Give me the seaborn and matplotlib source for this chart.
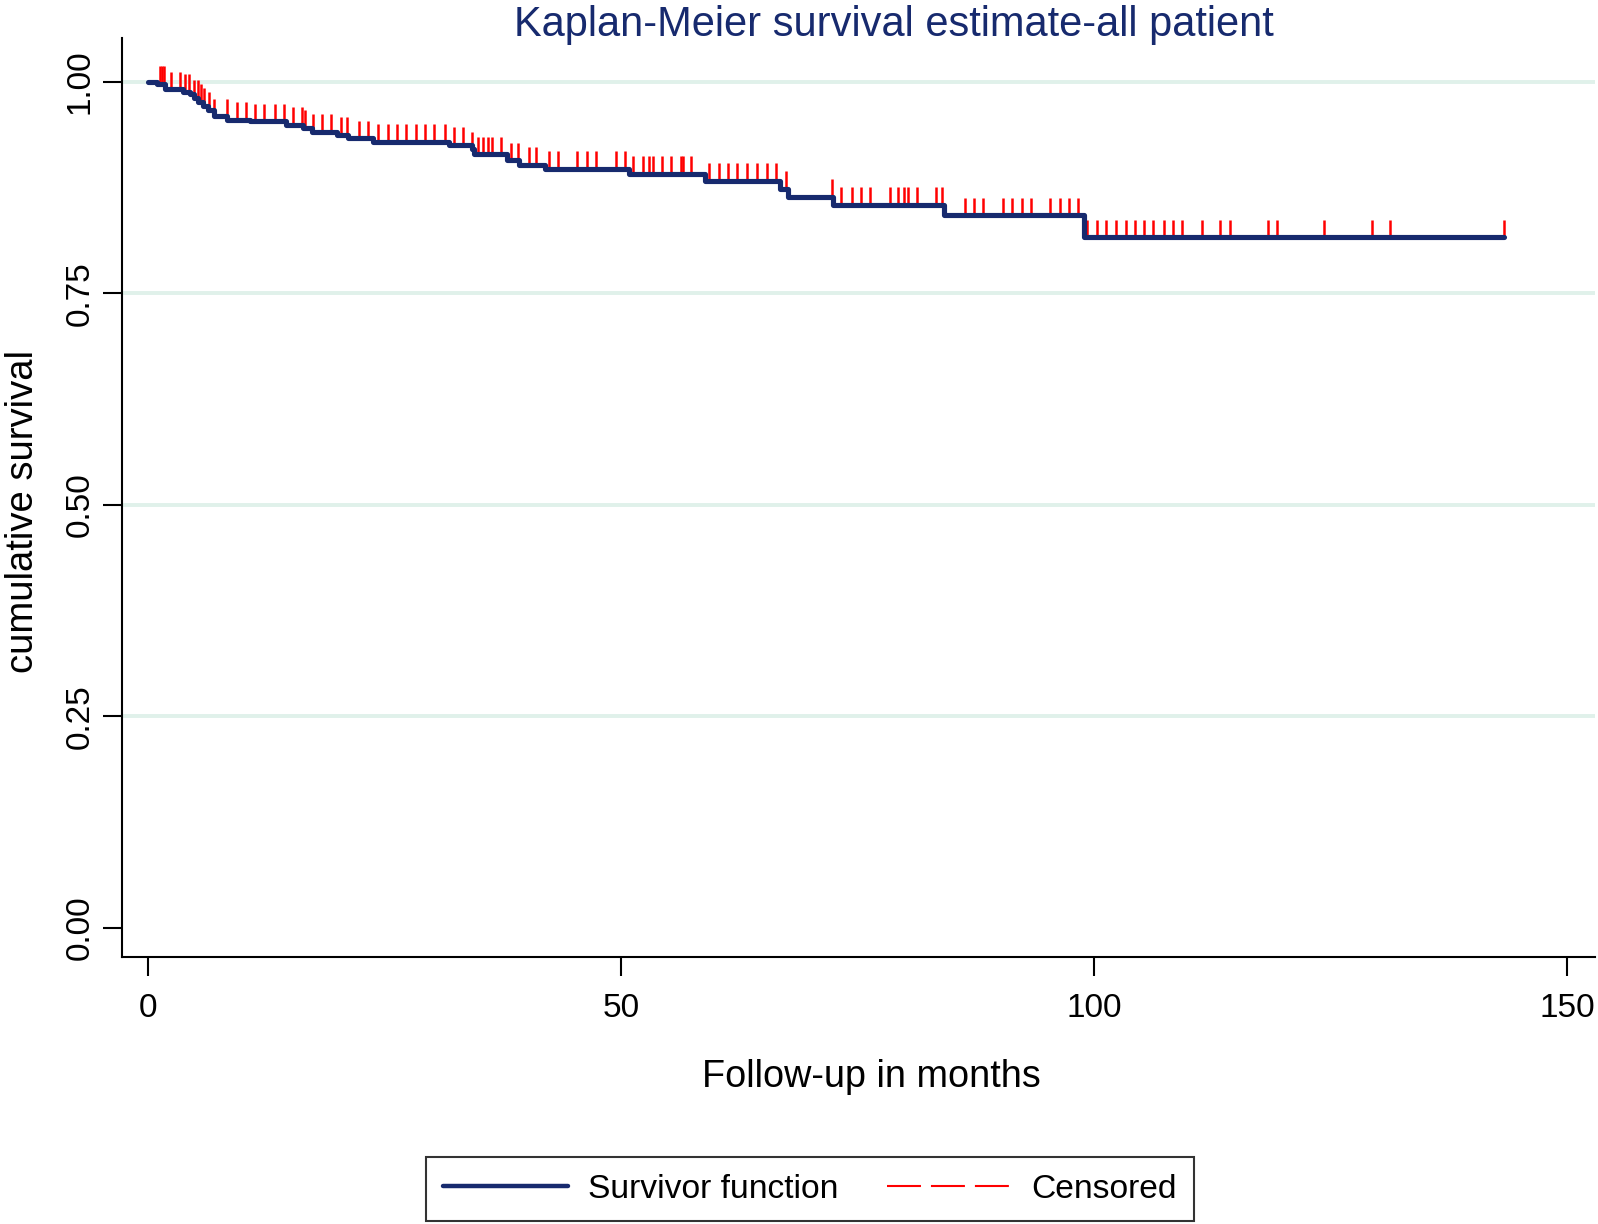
import numpy as np
import pandas as pd
import matplotlib
matplotlib.use("Agg")
import matplotlib.pyplot as plt
import seaborn as sns
from matplotlib.lines import Line2D

# ---- data ----
event_times = [0.9, 1.8, 3.7, 4.4, 4.8, 5.3, 5.8, 6.3, 6.9, 8.3, 10.8, 14.6, 16.4, 17.3,
               19.9, 21.1, 23.8, 31.8, 34.2, 34.4, 37.9, 39.2, 41.9, 50.8, 58.8, 66.8,
               67.6, 72.4, 84.1, 98.9]
survival = [0.997, 0.991, 0.988, 0.985, 0.981, 0.976, 0.971, 0.967, 0.959, 0.955, 0.953,
            0.949, 0.945, 0.941, 0.937, 0.933, 0.929, 0.925, 0.920, 0.914, 0.907, 0.902,
            0.897, 0.891, 0.883, 0.873, 0.864, 0.854, 0.842, 0.816]
end_time = 143.3
censor_times = [1.24, 1.45, 1.66, 2.37, 3.35, 3.88, 4.33, 4.83, 5.28, 5.54, 5.92, 6.42, 6.97,
                8.28, 9.34, 10.32, 11.31, 12.26, 13.36, 14.34, 15.32, 16.21, 16.56, 17.37,
                18.32, 19.27, 20.33, 21.03, 22.30, 23.25, 24.31, 25.30, 26.25, 27.23, 28.29,
                29.24, 30.22, 31.35, 32.32, 33.29, 34.24, 34.87, 35.40, 35.93, 36.35, 37.27,
                38.33, 39.04, 40.26, 40.97, 42.34, 43.33, 45.33, 46.33, 47.31, 49.39, 50.38,
                51.25, 52.25, 52.91, 53.30, 54.32, 55.24, 56.29, 56.54, 57.32, 59.28, 60.34,
                61.29, 62.28, 63.30, 64.36, 65.35, 66.30, 67.36, 72.28, 73.27, 74.40, 75.31,
                76.30, 78.38, 79.30, 79.89, 80.31, 81.26, 83.31, 83.95, 86.34, 87.29, 88.24,
                90.35, 91.30, 92.36, 93.35, 95.29, 96.35, 97.33, 98.28, 99.23, 100.33,
                101.28, 102.26, 103.35, 104.30, 105.25, 106.24, 107.33, 108.28, 109.27,
                111.35, 113.25, 114.34, 118.36, 119.28, 124.27, 129.35, 131.25, 143.34]
x_ticks = [0, 50, 100, 150]
y_ticks = [0.0, 0.25, 0.5, 0.75, 1.0]
y_ticklabels = ["0.00", "0.25", "0.50", "0.75", "1.00"]
title = "Kaplan-Meier survival estimate-all patient"
xlabel = "Follow-up in months"
ylabel = "cumulative survival"
legend_labels = ["Survivor function", "Censored"]

NAVY = "#172a6e"
RED = "#ff0000"
GRID = "#e0f1ea"

sns.set_style("ticks")
plt.rcParams["font.family"] = ["Liberation Sans", "DejaVu Sans"]

fig = plt.figure(figsize=(15.98, 12.24), dpi=100)
ax = fig.add_axes([0.0765, 0.2184, 0.9215, 0.7508])

tt = np.array([0.0] + event_times)
ss = np.array([1.0] + survival)
df = pd.DataFrame({"time": list(tt) + [end_time], "surv": list(ss) + [survival[-1]]})

sns.lineplot(data=df, x="time", y="surv", drawstyle="steps-post", color=NAVY,
             linewidth=3.7, estimator=None, sort=False, ax=ax, zorder=3, legend=False)

ct = np.array(censor_times)
k = np.searchsorted(tt, ct, side="right") - 1
cs = ss[k]
ax.vlines(ct, cs, cs + 0.021, colors=RED, linewidth=1.8, zorder=2)

ax.set_xlim(-2.75, 152.9)
ax.set_ylim(-0.0343, 1.052)
ax.set_xticks(x_ticks)
ax.set_xticklabels([str(v) for v in x_ticks])
ax.set_yticks(y_ticks)
ax.set_yticklabels(y_ticklabels)
ax.tick_params(axis="both", direction="out", length=14, width=1.5, color="black",
               labelsize=24, labelcolor="black")
ax.tick_params(axis="x", pad=12.5)
ax.tick_params(axis="y", pad=5, labelrotation=90)
for lab in ax.get_yticklabels():
    lab.set_va("center")

ax.grid(axis="y", color=GRID, linewidth=2.8, zorder=0)
ax.grid(axis="x", visible=False)
ax.yaxis.get_gridlines()[0].set_visible(False)
ax.set_axisbelow(True)

for side in ["top", "right"]:
    ax.spines[side].set_visible(False)
for side in ["left", "bottom"]:
    ax.spines[side].set_color("black")
    ax.spines[side].set_linewidth(1.5)

ax.set_xlabel("")
ax.set_ylabel("")
fig.text(893.8 / 1598, 1 - 36 / 1224, title, ha="center", va="baseline",
         fontsize=30, color=NAVY)
fig.text(871 / 1598, 1 - 1086.7 / 1224, xlabel, ha="center", va="baseline",
         fontsize=27.2, color="black")
fig.text(33.3 / 1598, 1 - 511 / 1224, ylabel, ha="center", va="baseline",
         rotation=90, rotation_mode="anchor", fontsize=27.5, color="black")

handles = [Line2D([], [], color=NAVY, linewidth=3.2),
           Line2D([], [], color=RED, linewidth=1.5, dashes=(16.3, 4.8))]
leg = fig.legend(handles, legend_labels, loc="center",
                 bbox_to_anchor=(810 / 1598, 1 - 1189 / 1224), ncol=2,
                 fontsize=24.2, frameon=True, fancybox=False, edgecolor="black",
                 borderpad=0.5, handlelength=3.7, handletextpad=0.6,
                 columnspacing=1.45)
leg.get_frame().set_linewidth(1.5)
for txt in leg.get_texts():
    txt.set_color("black")

fig.savefig("out.png", dpi=100)
